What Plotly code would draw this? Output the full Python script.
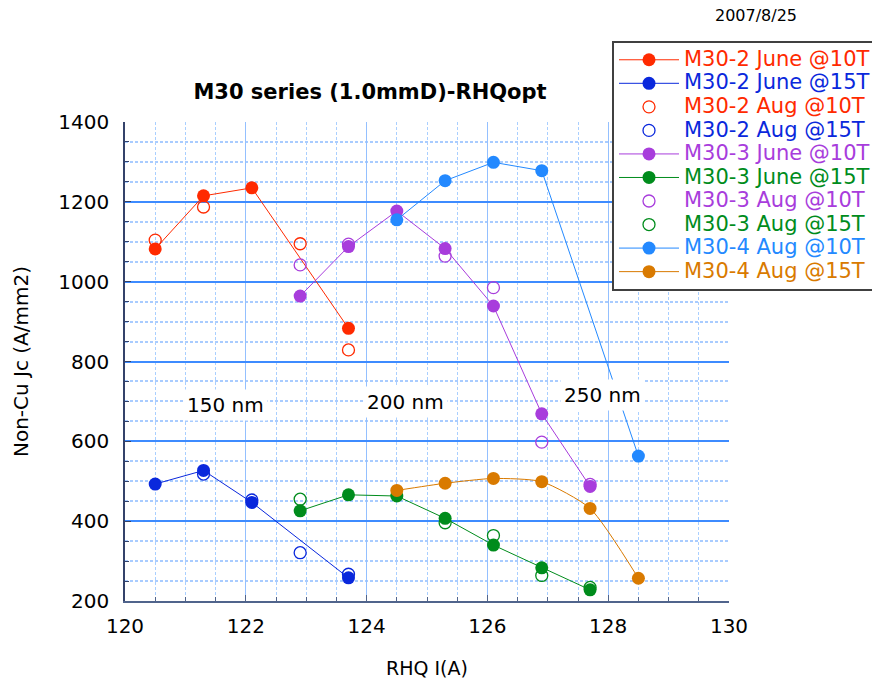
import plotly.graph_objects as go

FONT = "DejaVu Sans"

# x positions (RHQ current, A)
x_m2 = [120.5, 121.3, 122.1, 123.7]
x_m2_aug10 = [120.5, 121.3, 122.9, 123.7]
x_m2_aug15 = [121.3, 122.1, 122.9, 123.7]
x_m3 = [122.9, 123.7, 124.5, 125.3, 126.1, 126.9, 127.7]
x_m3_aug10 = [122.9, 123.7, 125.3, 126.1, 126.9, 127.7]
x_m3_aug15 = [122.9, 125.3, 126.1, 126.9, 127.7]
x_m4_10 = [124.5, 125.3, 126.1, 126.9, 128.5]
x_m4_15 = [124.5, 125.3, 126.1, 126.9, 127.7, 128.5]

# Non-Cu Jc values (A/mm2)
m2_june_10 = [1082, 1215, 1235, 883]
m2_june_15 = [493, 527, 447, 258]
m2_aug_10 = [1104, 1187, 1095, 829]
m2_aug_15 = [518, 453, 321, 267]
m3_june_10 = [964, 1088, 1177, 1083, 939, 669, 487]
m3_june_15 = [426, 466, 463, 407, 340, 283, 228]
m3_aug_10 = [1042, 1094, 1064, 985, 598, 492]
m3_aug_15 = [455, 396, 364, 264, 234]
m4_aug_10 = [1155, 1253, 1299, 1278, 563]
m4_aug_15 = [477, 495, 507, 499, 432, 257]

RED = "#ff2a00"
BLUE = "#0a28dc"
PURPLE = "#a83ddc"
GREEN = "#008c1c"
LBLUE = "#2389ff"
ORANGE = "#d97a00"

def nm(text, color):
    return f"<span style='color:{color};font-size:21px'>{text}</span>"

fig = go.Figure()

def filled(x, y, name, color, shape="linear"):
    fig.add_trace(go.Scatter(
        x=x, y=y, name=nm(name, color), mode="lines+markers",
        line=dict(color=color, width=1, shape=shape, smoothing=0.6),
        marker=dict(symbol="circle", size=13, color=color),
    ))

def opened(x, y, name, color):
    fig.add_trace(go.Scatter(
        x=x, y=y, name=nm(name, color), mode="markers",
        marker=dict(symbol="circle-open", size=12, color=color, line=dict(width=1.3)),
    ))

filled(x_m2, m2_june_10, "M30-2 June @10T", RED)
filled(x_m2, m2_june_15, "M30-2 June @15T", BLUE)
opened(x_m2_aug10, m2_aug_10, "M30-2 Aug @10T", RED)
opened(x_m2_aug15, m2_aug_15, "M30-2 Aug @15T", BLUE)
filled(x_m3, m3_june_10, "M30-3 June @10T", PURPLE)
filled(x_m3, m3_june_15, "M30-3 June @15T", GREEN)
opened(x_m3_aug10, m3_aug_10, "M30-3 Aug @10T", PURPLE)
opened(x_m3_aug15, m3_aug_15, "M30-3 Aug @15T", GREEN)
filled(x_m4_10, m4_aug_10, "M30-4 Aug @10T", LBLUE)
filled(x_m4_15, m4_aug_15, "M30-4 Aug @15T", ORANGE, shape="spline")

ann_text = ["150 nm", "200 nm", "250 nm"]
ann_x = [121.67, 124.64, 127.91]
ann_y = [691, 699, 716]
for t, ax_, ay_ in zip(ann_text, ann_x, ann_y):
    fig.add_annotation(x=ax_, y=ay_, text=t, showarrow=False, bgcolor="white",
                       xanchor="center", yanchor="middle",
                       font=dict(family=FONT, size=20, color="black"), borderpad=3)

fig.add_annotation(xref="paper", yref="paper", x=(756-125)/604, y=1+(122-15)/479,
                   xanchor="center", yanchor="middle", text="2007/8/25",
                   showarrow=False, font=dict(family=FONT, size=16, color="black"))

fig.update_layout(
    width=872, height=690,
    margin=dict(l=125, r=143, t=122, b=89, autoexpand=False),
    paper_bgcolor="white", plot_bgcolor="white",
    font=dict(family=FONT, color="black"),
    title=dict(text="<b>M30 series (1.0mmD)-RHQopt</b>", x=370/872, xanchor="center",
               xref="container", y=1-92/690, yanchor="middle", yref="container",
               font=dict(family=FONT, size=21, color="black")),
    showlegend=True,
    legend=dict(x=(612-125)/604, y=1+(122-41)/479, xanchor="left", yanchor="top",
                bordercolor="#404040", borderwidth=2, bgcolor="white",
                font=dict(family=FONT, size=15.8), itemwidth=60),
    xaxis=dict(range=[120, 130], dtick=2, tick0=120,
               showline=True, linecolor="#50648c", linewidth=1.5,
               ticks="inside", ticklen=6, tickcolor="#50648c",
               showgrid=True, gridcolor="#94c0ff", gridwidth=1,
               minor=dict(dtick=0.5, showgrid=True, gridcolor="#aacfff", griddash="3px,2px",
                          ticks="inside", ticklen=4, tickcolor="#50648c"),
               tickfont=dict(family=FONT, size=20, color="black"),
               ticklabelstandoff=6,
               title=dict(text="RHQ I(A)", font=dict(family=FONT, size=19, color="black"), standoff=25),
               zeroline=False),
    yaxis=dict(range=[200, 1400], dtick=200, tick0=200,
               showline=True, linecolor="#34426a", linewidth=1.5,
               ticks="inside", ticklen=6, tickcolor="#34426a",
               showgrid=True, gridcolor="#3d8bff", gridwidth=1.6,
               minor=dict(dtick=50, showgrid=True, gridcolor="#a9ccff", griddash="3px,2px",
                          ticks="inside", ticklen=4, tickcolor="#34426a"),
               tickfont=dict(family=FONT, size=20, color="black"),
               ticklabelstandoff=10,
               title=dict(text="Non-Cu Jc (A/mm2)", font=dict(family=FONT, size=20, color="black"), standoff=24),
               zeroline=False),
)

fig.write_html("out.html", config={"displayModeBar": False},
               post_script="document.body.style.margin='0px';")
